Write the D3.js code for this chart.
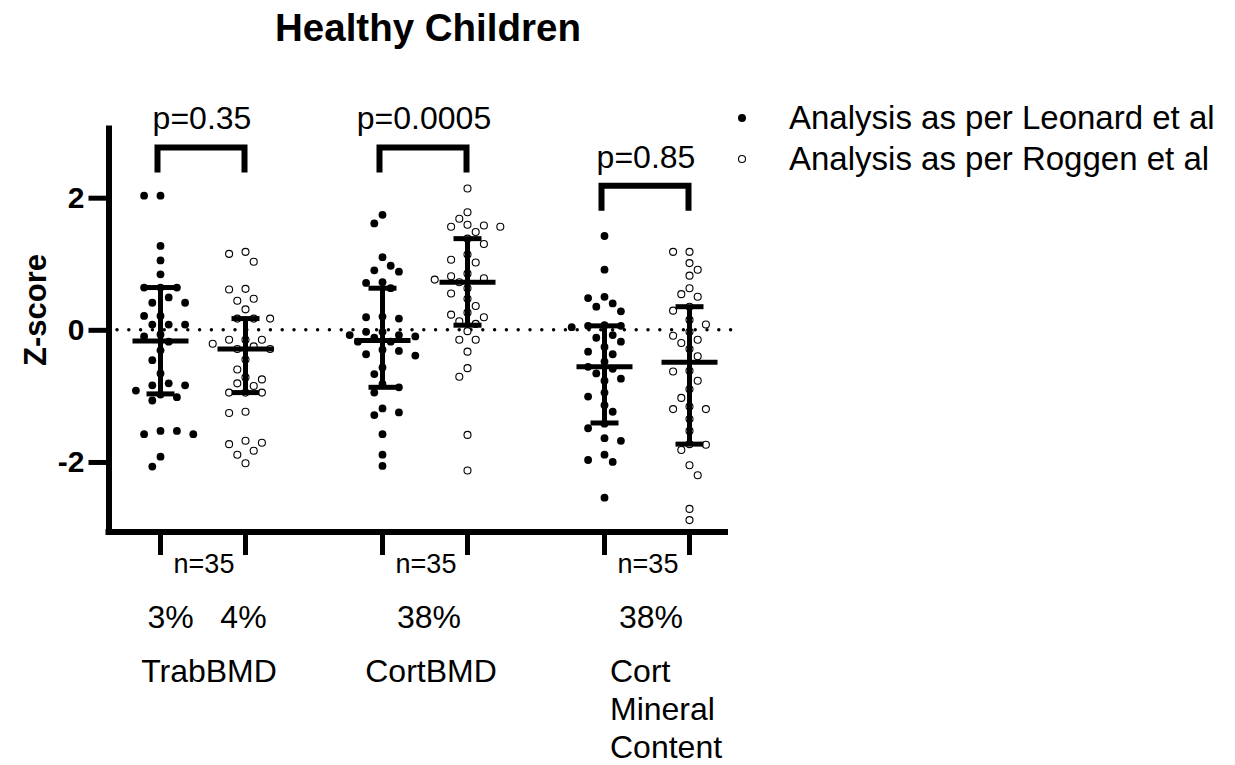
<!DOCTYPE html>
<html>
<head>
<meta charset="utf-8">
<script src="https://cdn.jsdelivr.net/npm/d3@7"></script>
<style>
  body { margin: 0; background: #fff; }
  text { font-family: "Liberation Sans", Arial, sans-serif; fill: #000; }
</style>
</head>
<body>
<div id="chart"></div>
<script>
// values (Z-scores)
var groups = ["TrabBMD", "CortBMD", "Cort Mineral Content"];
var methods = ["Leonard", "Roggen"];

var trabLeonard = [2.03, 2.03, 1.27, 1.05, 0.84, 0.64, 0.64, 0.64, 0.49, 0.41, 0.41, 0.21, 0.21, 0.08, 0.08, 0.08,
  -0.07, -0.10, -0.18, -0.31, -0.46, -0.66, -0.81, -0.84, -0.84, -0.92, -1.07, -0.98, -1.02, -1.53, -1.58, -1.58, -1.53, -1.92, -2.07];
var trabRoggen = [1.15, 1.03, 1.18, 0.61, 0.62, 0.44, 0.47, 0.31, 0.17, 0.17, 0.17, -0.15, -0.15, -0.15, -0.21, -0.25,
  -0.29, -0.29, -0.45, -0.60, -0.75, -0.72, -0.85, -0.81, -0.95, -0.95, -0.95, -1.26, -1.24, -1.71, -1.68, -1.73, -1.83, -1.89, -2.02];
var cortLeonard = [1.74, 1.61, 1.10, 0.90, 0.88, 0.97, 0.71, 0.72, 0.63, 0.17, 0.19, 0.20, -0.08, -0.03, -0.10, -0.03,
  -0.08, -0.18, -0.18, -0.12, -0.32, -0.30, -0.39, -0.37, -0.57, -0.67, -0.87, -0.82, -0.95, -1.19, -1.29, -1.25, -1.58, -1.89, -2.06];
var cortRoggen = [2.14, 1.78, 1.56, 1.59, 1.68, 1.58, 1.56, 1.48, 1.38, 1.30, 1.14, 1.06, 1.02, 0.85, 0.78, 0.81, 0.76,
  0.72, 0.55, 0.63, 0.36, 0.47, 0.19, 0.23, 0.26, 0.13, 0.09, -0.02, -0.15, -0.15, -0.33, -0.58, -0.71, -1.59, -2.13];
var cmcLeonard = [1.42, 0.91, 0.50, 0.48, 0.35, 0.40, 0.28, 0.07, 0.06, 0.06, 0.04, -0.08, -0.12, -0.18, -0.26, -0.33,
  -0.37, -0.48, -0.59, -0.56, -0.66, -0.77, -0.74, -0.95, -1.01, -1.14, -1.24, -1.42, -1.49, -1.64, -1.68, -1.89, -2.00, -1.97, -2.54];
var cmcRoggen = [1.18, 1.18, 1.01, 0.91, 0.82, 0.54, 0.63, 0.50, 0.35, 0.29, 0.15, 0.08, -0.03, -0.09, -0.15, -0.20,
  -0.29, -0.40, -0.63, -0.62, -0.77, -0.90, -1.03, -1.16, -1.20, -1.20, -1.35, -1.53, -1.73, -1.74, -1.82, -2.05, -2.20, -2.71, -2.88];

// median and interquartile range, column order
var medians = [-0.17, -0.29, -0.16, 0.72, -0.56, -0.49];
var q1 = [-0.97, -0.95, -0.87, 0.07, -1.41, -1.73];
var q3 = [0.64, 0.17, 0.63, 1.38, 0.06, 0.35];

var pLabels = ["p=0.35", "p=0.0005", "p=0.85"];
var bracketLevels = [2.76, 2.76, 2.18];
var nLabels = ["n=35", "n=35", "n=35"];
var siteLabels = ["3%   4%", "38%", "38%"];
var yTicks = [-2, 0, 2];
var legendLabels = ["Analysis as per Leonard et al", "Analysis as per Roggen et al"];

var width = 1235,
  height = 765;

var columnValues = [trabLeonard, trabRoggen, cortLeonard, cortRoggen, cmcLeonard, cmcRoggen];
var columns = [];
groups.forEach(function (g, gi) {
  methods.forEach(function (m, mi) {
    var i = gi * 2 + mi;
    columns.push({
      group: g,
      method: m,
      values: columnValues[i],
      median: medians[i],
      q1: q1[i],
      q3: q3[i],
    });
  });
});

var xGroup = d3.scalePoint().domain(groups).range([203, 647]);
var xMethod = d3.scalePoint().domain(methods).range([-42.5, 42.5]);
var y = d3.scaleLinear().domain([-3.06, 3.1]).range([532, 125]);

function colX(c) {
  return xGroup(c.group) + xMethod(c.method);
}

var svg = d3
  .select("#chart")
  .append("svg")
  .attr("width", width)
  .attr("height", height);

// title
svg
  .append("text")
  .attr("x", 428)
  .attr("y", 41)
  .attr("text-anchor", "middle")
  .attr("font-size", "38.5px")
  .attr("font-weight", "bold")
  .text("Healthy Children");

// y axis label
svg
  .append("text")
  .attr("transform", "translate(46," + y(0.3) + ") rotate(-90)")
  .attr("text-anchor", "middle")
  .attr("font-size", "31px")
  .attr("font-weight", "bold")
  .text("Z-score");

// zero reference line
svg
  .append("line")
  .attr("x1", 117)
  .attr("x2", 742)
  .attr("y1", y(0))
  .attr("y2", y(0))
  .attr("stroke", "#000")
  .attr("stroke-width", 3.5)
  .attr("stroke-linecap", "round")
  .attr("stroke-dasharray", "0,11.8");

// y axis
var yAxis = d3
  .axisLeft(y)
  .tickValues(yTicks)
  .tickFormat(function (d) {
    return String(d);
  })
  .tickSize(20)
  .tickSizeOuter(0)
  .tickPadding(4);
var yAxisG = svg.append("g").attr("transform", "translate(108.5,0)").call(yAxis);
yAxisG.select(".domain").attr("stroke-width", 6);
yAxisG.selectAll(".tick line").attr("stroke-width", 5);
yAxisG
  .selectAll(".tick text")
  .attr("font-size", "30px")
  .attr("font-weight", "bold")
  .attr("font-family", '"Liberation Sans", Arial, sans-serif')
  .attr("fill", "#000");

// x axis line and ticks
var axisY = y(-3.06);
svg
  .append("line")
  .attr("x1", 105.5)
  .attr("x2", 728)
  .attr("y1", axisY)
  .attr("y2", axisY)
  .attr("stroke", "#000")
  .attr("stroke-width", 6);
svg
  .selectAll(".xtick")
  .data(columns)
  .enter()
  .append("line")
  .attr("class", "xtick")
  .attr("x1", colX)
  .attr("x2", colX)
  .attr("y1", axisY)
  .attr("y2", axisY + 23)
  .attr("stroke", "#000")
  .attr("stroke-width", 5);

// simple swarm: points on a grid of columns, stacked without overlap
function swarm(values, diameter, step) {
  var pts = values
    .map(function (v) {
      return { v: v, py: y(v) };
    })
    .sort(function (a, b) {
      return a.py - b.py;
    });
  var placed = [];
  var flip = false;
  pts.forEach(function (p) {
    var near = placed.filter(function (q) {
      return Math.abs(q.py - p.py) < diameter;
    });
    function free(dx) {
      return near.every(function (q) {
        return Math.hypot(q.dx - dx, q.py - p.py) >= diameter;
      });
    }
    for (var k = 0; k < 20; k++) {
      var cands = k === 0 ? [0] : flip ? [k * step, -k * step] : [-k * step, k * step];
      var hit = cands.find(free);
      if (hit !== undefined) {
        p.dx = hit;
        if (k > 0) flip = !flip;
        break;
      }
    }
    placed.push(p);
  });
  return pts;
}

// dots
columns.forEach(function (c) {
  var filled = c.method === "Leonard";
  var pts = swarm(c.values, 10, 8.2);
  svg
    .append("g")
    .selectAll("circle")
    .data(pts)
    .enter()
    .append("circle")
    .attr("cx", function (d) {
      return colX(c) + d.dx;
    })
    .attr("cy", function (d) {
      return d.py;
    })
    .attr("r", filled ? 3.9 : 3.5)
    .attr("fill", filled ? "#000" : "#fff")
    .attr("stroke", "#000")
    .attr("stroke-width", filled ? 0 : 1.1);
});

// median with interquartile range
var bars = svg.append("g");
columns.forEach(function (c) {
  var cx = colX(c);
  bars
    .append("line")
    .attr("x1", cx)
    .attr("x2", cx)
    .attr("y1", y(c.q3))
    .attr("y2", y(c.q1))
    .attr("stroke", "#000")
    .attr("stroke-width", 5);
  [c.q1, c.q3].forEach(function (v) {
    bars
      .append("line")
      .attr("x1", cx - 14)
      .attr("x2", cx + 14)
      .attr("y1", y(v))
      .attr("y2", y(v))
      .attr("stroke", "#000")
      .attr("stroke-width", 5);
  });
  bars
    .append("line")
    .attr("x1", cx - 28)
    .attr("x2", cx + 28)
    .attr("y1", y(c.median))
    .attr("y2", y(c.median))
    .attr("stroke", "#000")
    .attr("stroke-width", 5);
});

// significance brackets
groups.forEach(function (g, i) {
  var x1 = xGroup(g) + xMethod("Leonard") - 3;
  var x2 = xGroup(g) + xMethod("Roggen") - 1;
  var top = y(bracketLevels[i]);
  svg
    .append("path")
    .attr("d", "M" + x1 + "," + (top + 25) + "V" + top + "H" + x2 + "V" + (top + 25))
    .attr("fill", "none")
    .attr("stroke", "#000")
    .attr("stroke-width", 6);
  svg
    .append("text")
    .attr("x", xGroup(g) - 1)
    .attr("y", top - 18)
    .attr("text-anchor", "middle")
    .attr("font-size", "32px")
    .text(pLabels[i]);
});

// labels under the axis
groups.forEach(function (g, i) {
  var gx = xGroup(g);
  svg
    .append("text")
    .attr("x", gx + 1)
    .attr("y", 573)
    .attr("text-anchor", "middle")
    .attr("font-size", "27px")
    .text(nLabels[i]);
  svg
    .append("text")
    .attr("x", gx + 4)
    .attr("y", 628)
    .attr("text-anchor", "middle")
    .attr("font-size", "32px")
    .style("white-space", "pre")
    .text(siteLabels[i]);
  var words = g.split(" ");
  var lines = words.length > 1 ? words : [g];
  var t = svg
    .append("text")
    .attr("font-size", "32px")
    .attr("text-anchor", lines.length > 1 ? "start" : "middle");
  lines.forEach(function (line, li) {
    t.append("tspan")
      .attr("x", lines.length > 1 ? gx - 37 : gx + 6)
      .attr("y", 682 + li * 38)
      .text(line);
  });
});

// legend
var legend = svg.append("g").attr("transform", "translate(742,118)");
legendLabels.forEach(function (label, i) {
  var row = legend.append("g").attr("transform", "translate(0," + i * 41 + ")");
  row
    .append("circle")
    .attr("r", i === 0 ? 4 : 3.5)
    .attr("fill", i === 0 ? "#000" : "#fff")
    .attr("stroke", "#000")
    .attr("stroke-width", i === 0 ? 0 : 1.1);
  row
    .append("text")
    .attr("x", 47)
    .attr("y", 11)
    .attr("font-size", "33px")
    .text(label);
});
</script>
</body>
</html>
